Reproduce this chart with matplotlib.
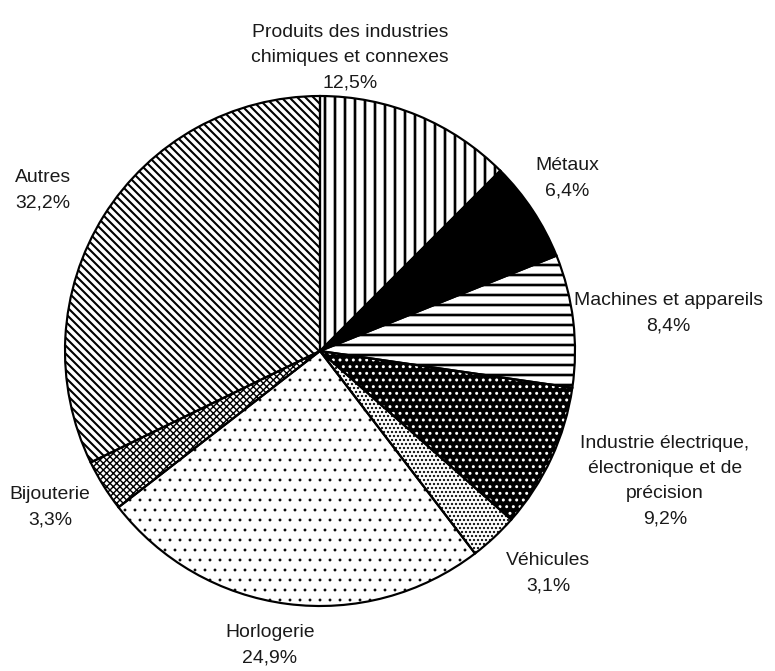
import matplotlib
matplotlib.use("Agg")
import matplotlib.pyplot as plt

# ---- data ----
categories = [
    "Produits des industries\nchimiques et connexes",
    "Métaux",
    "Machines et appareils",
    "Industrie électrique,\nélectronique et de\nprécision",
    "Véhicules",
    "Horlogerie",
    "Bijouterie",
    "Autres",
]
shares = [12.5, 6.4, 8.4, 9.2, 3.1, 24.9, 3.3, 32.2]
pct_labels = ["12,5%", "6,4%", "8,4%", "9,2%", "3,1%", "24,9%", "3,3%", "32,2%"]

# ---- styles / layout ----
face_colors = ["white", "black", "white", "black", "white", "white", "white", "white"]
hatch_colors = ["black", "black", "black", "white", "black", "black", "black", "black"]
hatches = ["||", None, "--", "...", ".....", "..", "xxxxxx", "\\\\\\\\\\"]
hatch_lws = [1.6, 1.0, 1.6, 1.0, 0.9, 0.5, 0.85, 1.25]
# label centres in pixel coords (x from left, y from top)
label_xy = [(350, 58), (567, 178), (668, 313), (665, 481),
            (548, 573), (270, 645), (50, 507), (43, 190)]

W, H, DPI = 775, 671, 120
fig = plt.figure(figsize=(W / DPI, H / DPI), dpi=DPI)
ax = fig.add_axes([0, 0, 1, 1])

center = (320, H - 351)
radius = 255

wedges, _ = ax.pie(shares, startangle=90, counterclock=False,
                   center=center, radius=radius, frame=True)
for w, fc, hc, h, hl in zip(wedges, face_colors, hatch_colors, hatches, hatch_lws):
    w.set_facecolor(fc)
    w.set_edgecolor(hc)
    w.set_linewidth(0)
    if h:
        w.set_hatch(h)
    try:
        w.set_hatch_linewidth(hl)
    except AttributeError:
        w._hatch_linewidth = hl

# outlines
ax.pie(shares, startangle=90, counterclock=False,
       center=center, radius=radius, frame=True,
       wedgeprops=dict(fill=False, edgecolor="black", linewidth=1.3))
ax.set_xlim(0, W)
ax.set_ylim(0, H)
ax.axis("off")

font = ["Liberation Sans Narrow", "Liberation Sans", "DejaVu Sans"]
for name, pct, (x, y) in zip(categories, pct_labels, label_xy):
    ax.text(x, H - y, name + "\n" + pct, ha="center", va="center",
            multialignment="center", fontsize=11.6, family=font,
            linespacing=1.64, color="#1a1a1a")

fig.savefig("out.png", dpi=DPI, facecolor="white")
